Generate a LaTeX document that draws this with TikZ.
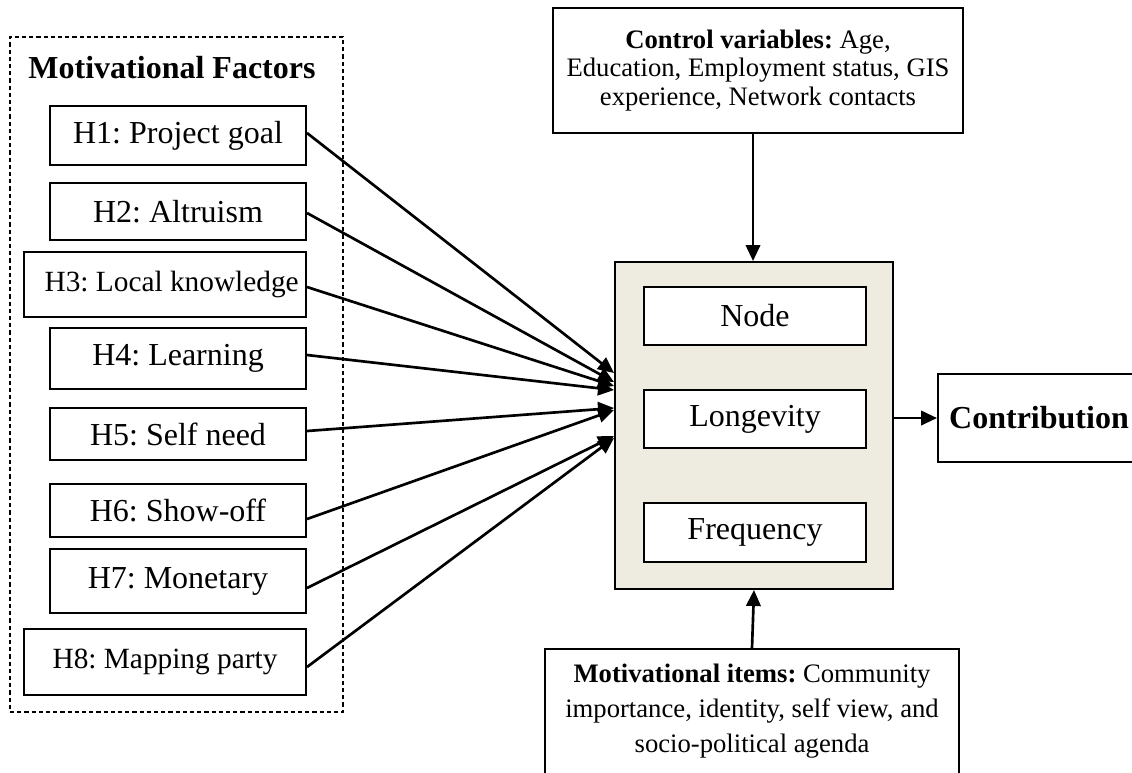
\documentclass[tikz,border=0pt]{standalone}
\usepackage{fontspec}
\setmainfont{Liberation Serif}
\usetikzlibrary{arrows.meta,calc}
\newcommand\pxu{0.375pt}
\definecolor{coretan}{HTML}{EEECE1}
\frenchspacing
\begin{document}
\begin{tikzpicture}[x=0.375pt,y=-0.375pt,
  box/.style={draw,line width=0.75pt,inner sep=0pt,align=center,fill=white,
    font=\fontsize{12}{14}\selectfont},
  smallbox/.style={draw,line width=0.75pt,inner sep=0pt,align=center,fill=white,
    font=\fontsize{10}{10.7}\selectfont},
  conn/.style={line width=1pt,-{Triangle[length=6pt,width=5.4pt]}},
  groupbox/.style={draw,line width=0.5pt,dash pattern=on 1.6pt off 1.1pt,inner sep=0pt}]
\clip (0,0) rectangle (1132,772);
\fill[white] (0,0) rectangle (1132,772);

% left group
\node[groupbox,minimum width=333*\pxu,minimum height=675*\pxu] (grp) at (176.5,374.5) {};
\node[font=\fontsize{12}{14}\selectfont\bfseries] (title) at (172,68) {Motivational Factors};

\node[box,minimum width=256*\pxu,minimum height=59*\pxu] (h1) at (178,135.5) {H1: Project goal};
\node[box,minimum width=256*\pxu,minimum height=57*\pxu] (h2) at (178,211.5) {H2: Altruism};
\node[box,minimum width=282*\pxu,minimum height=65*\pxu,font=\fontsize{11}{13}\selectfont] (h3) at (165,284.5) {\hspace*{5pt}H3: Local knowledge};
\node[box,minimum width=256*\pxu,minimum height=61*\pxu] (h4) at (178,358.5) {H4: Learning};
\node[box,minimum width=256*\pxu,minimum height=52*\pxu] (h5) at (178,434) {H5: Self need};
\node[box,minimum width=256*\pxu,minimum height=53*\pxu] (h6) at (178,510.5) {H6: Show-off};
\node[box,minimum width=256*\pxu,minimum height=64*\pxu] (h7) at (178,581) {H7: Monetary};
\node[box,minimum width=282*\pxu,minimum height=66*\pxu,font=\fontsize{11}{13}\selectfont] (h8) at (165,662) {H8: Mapping party};

% core
\node[box,fill=coretan,minimum width=278*\pxu,minimum height=327*\pxu] (core) at (754,425.5) {};
\node[box,minimum width=222*\pxu,minimum height=58*\pxu] (node) at (755,316) {Node};
\node[box,minimum width=222*\pxu,minimum height=58*\pxu] (long) at (755,419) {Longevity};
\node[box,minimum width=222*\pxu,minimum height=59*\pxu] (freq) at (755,532.5) {Frequency};

% contribution
\node[box,minimum width=202*\pxu,minimum height=88*\pxu,font=\fontsize{12}{14}\selectfont\bfseries] (contrib) at (1039,418) {Contribution};

% control variables
\node[smallbox,minimum width=410*\pxu,minimum height=125*\pxu] (ctrl) at (758,70.5)
  {\textbf{Control variables:} Age,\\Education, Employment status, GIS\\experience, Network contacts};

% motivational items
\node[smallbox,minimum width=414*\pxu,minimum height=170*\pxu,anchor=north] (items) at (752,648) {};
\node[font=\fontsize{10}{13.1}\selectfont,align=center,inner sep=0pt] (itemstext) at (752,711)
  {\textbf{Motivational items:} Community\\importance, identity, self view, and\\socio-political agenda};

% connectors
\draw[conn] ($(h1.east)+(0,-2.5)$) -- ($(core.west)+(0,-52.5)$);
\draw[conn] ($(h2.east)+(0,1.5)$) -- ($(core.west)+(0,-43.5)$);
\draw[conn] ($(h3.east)+(0,2.5)$) -- ($(core.west)+(0,-39.5)$);
\draw[conn] ($(h4.east)+(0,-3.5)$) -- ($(core.west)+(0,-35.5)$);
\draw[conn] ($(h5.east)+(0,-3)$) -- ($(core.west)+(0,-17.5)$);
\draw[conn] ($(h6.east)+(0,8.5)$) -- ($(core.west)+(0,-15.5)$);
\draw[conn] ($(h7.east)+(0,7)$) -- ($(core.west)+(0,10.5)$);
\draw[conn] ($(h8.east)+(0,5)$) -- ($(core.west)+(0,12.5)$);

\draw[conn] ($(ctrl.south)+(-5,0)$) -- ($(core.north)+(-1,0)$);
\draw[conn] (items.north) -- ($(core.south)+(0,0)$);
\draw[conn] ($(core.east)+(0,-7.5)$) -- (contrib.west);
\end{tikzpicture}
\end{document}
